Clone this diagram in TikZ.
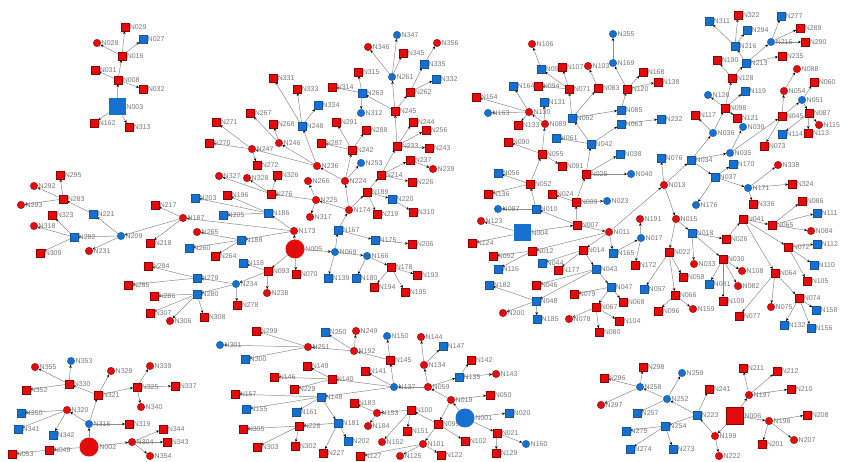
\documentclass[tikz,border=0pt]{standalone}
\usepackage{fontspec}
\setmainfont{Liberation Sans}
\usetikzlibrary{arrows.meta}
\pgfdeclarelayer{back}
\pgfdeclarelayer{edges}
\pgfsetlayers{back,edges,main}
\definecolor{nred}{RGB}{226,12,12}
\definecolor{ndred}{RGB}{150,0,0}
\definecolor{nblue}{RGB}{22,112,206}
\definecolor{ndblue}{RGB}{20,85,165}
\definecolor{lblgray}{RGB}{120,120,120}
\definecolor{edgegray}{RGB}{140,140,140}
\tikzset{
  lbl/.style={font=\fontsize{7}{8}\selectfont, text=lblgray, inner sep=0.6pt, label distance=0pt},
  rs/.style={rectangle, fill=nred, draw=ndred, line width=0.4pt, minimum size=7.5pt, inner sep=0pt},
  rc/.style={circle, fill=nred, draw=ndred, line width=0.3pt, minimum size=7.5pt, inner sep=0pt},
  bs/.style={rectangle, fill=nblue, draw=ndblue, line width=0.3pt, minimum size=7.5pt, inner sep=0pt},
  bc/.style={circle, fill=nblue, draw=ndblue, line width=0.3pt, minimum size=7.5pt, inner sep=0pt},
  RS/.style={rs, minimum size=17pt},
  RC/.style={rc, draw=none, minimum size=19pt},
  BS/.style={bs, draw=none, minimum size=17pt},
  BC/.style={bc, draw=none, minimum size=19pt},
  edge/.style={draw=edgegray, line width=0.5pt, -{Stealth[length=3pt,width=2.6pt,color=black]}}
}
\newcommand\nd[4]{\node[#1,label={[lbl]east:#2}] (#2) at (#3,#4) {};}
\begin{document}
\begin{tikzpicture}[x=1pt,y=-1pt]
\useasboundingbox (0,0) rectangle (844,462);
\begin{pgfonlayer}{back}
\fill[white] (0,0) rectangle (844,462);
\end{pgfonlayer}
% component A
\nd{BS}{N003}{117}{107}
\nd{rs}{N008}{118}{80}
\nd{rs}{N016}{122}{56}
\nd{rs}{N029}{125}{27}
\nd{bs}{N027}{143}{39}
\nd{rc}{N028}{97}{43}
\nd{rs}{N031}{95}{70}
\nd{rs}{N032}{143}{89}
\nd{rs}{N162}{94}{123}
\nd{rs}{N313}{129}{127}
% left
\nd{rs}{N295}{60}{175}
\nd{rc}{N292}{34}{186}
\nd{rs}{N283}{63}{199}
\nd{rc}{N293}{21}{205}
\nd{bs}{N221}{93}{214}
\nd{rs}{N323}{52}{215}
\nd{rc}{N318}{34}{226}
\nd{bs}{N282}{74}{237}
\nd{bc}{N209}{121}{236}
\nd{rc}{N231}{89}{251}
\nd{rs}{N309}{40}{253}
\nd{rs}{N217}{155}{205}
\nd{rc}{N187}{183}{218}
\nd{rs}{N218}{150}{243}
\nd{bs}{N203}{195}{198}
\nd{rc}{N265}{197}{232}
\nd{bs}{N260}{189}{248}
\nd{rs}{N284}{148}{266}
\nd{bs}{N279}{197}{278}
\nd{rs}{N285}{128}{285}
\nd{rs}{N286}{154}{296}
\nd{bs}{N280}{197}{294}
\nd{rs}{N307}{150}{313}
\nd{rc}{N306}{170}{321}
\nd{rs}{N308}{204}{317}
% center
\nd{rs}{N331}{273}{78}
\nd{rs}{N333}{297}{89}
\nd{bs}{N334}{318}{105}
\nd{bs}{N248}{302}{126}
\nd{rs}{N267}{250}{113}
\nd{rs}{N271}{216}{122}
\nd{rs}{N268}{273}{124}
\nd{rc}{N246}{279}{143}
\nd{rs}{N270}{209}{143}
\nd{rc}{N247}{252}{149}
\nd{rs}{N291}{336}{122}
\nd{rs}{N288}{366}{130}
\nd{rs}{N287}{321}{143}
\nd{rs}{N242}{352}{150}
\nd{rs}{N233}{397}{146}
\nd{rs}{N244}{413}{122}
\nd{rs}{N256}{426}{130}
\nd{rs}{N243}{429}{148}
\nd{bc}{N347}{397}{35}
\nd{rc}{N346}{368}{47}
\nd{rs}{N345}{403}{53}
\nd{bc}{N261}{392}{77}
\nd{rs}{N315}{358}{72}
\nd{rs}{N314}{332}{87}
\nd{bs}{N263}{362}{93}
\nd{bc}{N312}{361}{113}
\nd{rs}{N245}{395}{111}
\nd{rs}{N262}{410}{92}
\nd{rc}{N356}{437}{43}
\nd{bs}{N335}{424}{64}
\nd{bs}{N332}{436}{79}
\nd{rs}{N272}{257}{165}
\nd{rc}{N236}{317}{166}
\nd{bc}{N253}{361}{163}
\nd{rs}{N214}{381}{175}
\nd{rs}{N237}{410}{160}
\nd{rc}{N239}{433}{169}
\nd{rs}{N226}{412}{182}
\nd{rc}{N327}{219}{176}
\nd{rc}{N328}{247}{178}
\nd{rs}{N326}{277}{175}
\nd{rc}{N266}{308}{181}
\nd{rc}{N224}{345}{181}
\nd{rs}{N276}{271}{194}
\nd{rs}{N196}{227}{195}
\nd{rc}{N225}{316}{200}
\nd{rs}{N189}{367}{192}
\nd{bs}{N220}{392}{199}
\nd{rc}{N174}{349}{210}
\nd{rs}{N219}{377}{214}
\nd{rs}{N310}{413}{212}
\nd{rc}{N317}{310}{217}
\nd{bs}{N186}{268}{213}
\nd{bs}{N205}{223}{215}
\nd{rc}{N173}{294}{231}
\nd{bs}{N167}{338}{230}
\nd{bs}{N188}{241}{240}
\nd{bs}{N175}{375}{240}
\nd{rs}{N206}{412}{244}
\nd{RC}{N005}{295}{249}
\nd{bc}{N069}{335}{252}
\nd{bc}{N166}{367}{256}
\nd{rs}{N264}{215}{256}
\nd{bs}{N118}{243}{263}
\nd{rs}{N093}{268}{271}
\nd{rs}{N070}{296}{274}
\nd{rs}{N178}{391}{267}
\nd{bs}{N139}{328}{278}
\nd{bs}{N180}{356}{278}
\nd{bc}{N234}{236}{284}
\nd{rc}{N238}{267}{293}
\nd{rs}{N194}{374}{287}
\nd{rs}{N195}{405}{292}
\nd{rs}{N193}{417}{275}
\nd{rs}{N278}{237}{305}
% right big
\nd{rc}{N106}{532}{44}
\nd{bs}{N095}{541}{69}
\nd{rs}{N107}{562}{67}
\nd{rc}{N103}{588}{66}
\nd{bs}{N164}{513}{86}
\nd{rs}{N094}{538}{86}
\nd{rs}{N071}{569}{89}
\nd{rs}{N083}{598}{88}
\nd{rs}{N154}{476}{97}
\nd{bs}{N131}{544}{102}
\nd{bc}{N163}{488}{113}
\nd{rc}{N130}{529}{112}
\nd{bs}{N062}{572}{118}
\nd{rs}{N133}{518}{125}
\nd{rc}{N089}{545}{124}
\nd{bs}{N061}{556}{138}
\nd{bs}{N042}{591}{144}
\nd{rs}{N090}{508}{142}
\nd{rs}{N055}{542}{154}
\nd{bc}{N255}{613}{34}
\nd{bc}{N169}{613}{63}
\nd{rs}{N120}{627}{89}
\nd{bs}{N085}{621}{110}
\nd{bs}{N063}{621}{124}
\nd{bs}{N232}{661}{119}
\nd{rs}{N168}{643}{72}
\nd{rs}{N138}{658}{82}
\nd{rs}{N322}{738}{15}
\nd{bs}{N311}{709}{21}
\nd{bs}{N277}{781}{16}
\nd{bs}{N294}{747}{30}
\nd{rs}{N289}{800}{28}
\nd{bs}{N216}{735}{46}
\nd{bc}{N215}{771}{42}
\nd{rs}{N290}{805}{42}
\nd{rs}{N190}{717}{60}
\nd{bs}{N213}{746}{63}
\nd{rs}{N235}{782}{56}
\nd{rs}{N128}{732}{78}
\nd{rc}{N088}{797}{69}
\nd{rs}{N060}{814}{82}
\nd{bc}{N126}{708}{95}
\nd{bs}{N119}{745}{91}
\nd{rc}{N054}{784}{91}
\nd{bc}{N051}{802}{100}
\nd{rs}{N098}{725}{108}
\nd{rs}{N117}{695}{115}
\nd{rs}{N121}{737}{118}
\nd{rs}{N087}{809}{113}
\nd{rs}{N045}{782}{116}
\nd{bc}{N039}{743}{127}
\nd{rc}{N115}{819}{125}
\nd{bc}{N036}{713}{133}
\nd{bs}{N114}{782}{134}
\nd{rs}{N113}{808}{133}
\nd{rs}{N073}{764}{146}
\nd{bc}{N035}{730}{153}
\nd{bs}{N038}{620}{154}
\nd{bs}{N076}{661}{158}
\nd{bs}{N034}{691}{160}
\nd{rs}{N091}{562}{166}
\nd{rs}{N025}{586}{174}
\nd{bs}{N056}{498}{173}
\nd{rs}{N052}{530}{184}
\nd{rs}{N136}{488}{194}
\nd{rs}{N024}{552}{194}
\nd{rs}{N009}{576}{202}
\nd{bc}{N023}{607}{201}
\nd{bc}{N097}{498}{209}
\nd{bs}{N010}{536}{209}
\nd{rc}{N123}{481}{221}
\nd{BS}{N004}{522}{233}
\nd{rs}{N007}{577}{225}
\nd{rc}{N011}{609}{232}
\nd{rs}{N124}{472}{243}
\nd{rs}{N012}{532}{251}
\nd{rs}{N014}{583}{250}
\nd{rs}{N092}{493}{256}
\nd{bs}{N044}{542}{263}
\nd{bs}{N116}{498}{269}
\nd{rs}{N177}{558}{270}
\nd{bs}{N043}{596}{269}
\nd{bs}{N182}{489}{285}
\nd{rs}{N046}{536}{285}
\nd{rs}{N079}{574}{294}
\nd{bs}{N047}{611}{287}
\nd{bs}{N048}{536}{301}
\nd{rs}{N067}{596}{307}
\nd{rs}{N068}{623}{302}
\nd{rc}{N200}{503}{313}
\nd{bs}{N185}{537}{319}
\nd{rc}{N078}{569}{319}
\nd{rs}{N080}{599}{332}
\nd{rs}{N104}{619}{321}
\nd{bc}{N040}{631}{174}
\nd{bs}{N170}{733}{164}
\nd{rc}{N338}{778}{165}
\nd{bs}{N037}{715}{177}
\nd{rc}{N013}{664}{185}
\nd{bc}{N171}{748}{188}
\nd{rs}{N324}{792}{184}
\nd{bc}{N176}{696}{205}
\nd{rs}{N336}{753}{204}
\nd{rs}{N086}{802}{201}
\nd{rc}{N191}{640}{219}
\nd{rc}{N015}{676}{219}
\nd{rs}{N041}{743}{219}
\nd{bs}{N111}{817}{213}
\nd{rs}{N065}{772}{225}
\nd{rc}{N084}{811}{231}
\nd{bs}{N018}{692}{233}
\nd{bc}{N017}{641}{238}
\nd{rs}{N026}{726}{239}
\nd{bs}{N112}{817}{244}
\nd{rs}{N072}{788}{247}
\nd{bs}{N165}{613}{253}
\nd{rs}{N022}{669}{252}
\nd{rs}{N030}{723}{259}
\nd{rs}{N172}{635}{265}
\nd{rc}{N033}{694}{264}
\nd{bs}{N110}{814}{265}
\nd{rc}{N108}{742}{271}
\nd{rs}{N064}{775}{273}
\nd{rs}{N058}{683}{277}
\nd{rs}{N105}{807}{281}
\nd{bs}{N081}{709}{284}
\nd{rc}{N082}{738}{286}
\nd{bs}{N057}{644}{289}
\nd{rs}{N066}{675}{295}
\nd{rs}{N074}{799}{298}
\nd{rs}{N109}{723}{301}
\nd{rc}{N075}{771}{307}
\nd{rs}{N096}{658}{311}
\nd{rc}{N159}{693}{309}
\nd{rs}{N077}{739}{316}
\nd{bs}{N158}{816}{310}
\nd{bs}{N132}{784}{325}
\nd{bs}{N156}{811}{328}
% bottom left
\nd{bc}{N353}{71}{361}
\nd{rc}{N355}{35}{367}
\nd{rc}{N329}{111}{371}
\nd{rc}{N339}{150}{366}
\nd{rs}{N330}{69}{384}
\nd{rs}{N352}{26}{390}
\nd{rs}{N325}{137}{387}
\nd{rs}{N337}{175}{386}
\nd{rs}{N321}{98}{395}
\nd{rc}{N320}{67}{410}
\nd{bs}{N350}{21}{413}
\nd{rc}{N340}{141}{407}
\nd{bc}{N316}{89}{424}
\nd{rs}{N319}{129}{424}
\nd{bs}{N341}{18}{429}
\nd{bs}{N342}{53}{435}
\nd{rs}{N344}{163}{429}
\nd{rc}{N304}{132}{442}
\nd{rs}{N343}{167}{442}
\nd{rs}{N049}{49}{450}
\nd{RC}{N002}{89}{447}
\nd{rs}{N053}{12}{454}
\nd{rc}{N354}{150}{456}
% bottom middle
\nd{rs}{N299}{256}{331}
\nd{bs}{N250}{325}{332}
\nd{rc}{N249}{356}{331}
\nd{bc}{N150}{387}{336}
\nd{bc}{N301}{220}{345}
\nd{rc}{N251}{308}{347}
\nd{rc}{N192}{354}{351}
\nd{rs}{N145}{390}{360}
\nd{bs}{N300}{245}{359}
\nd{rs}{N149}{307}{366}
\nd{rs}{N141}{365}{371}
\nd{rs}{N146}{274}{377}
\nd{rs}{N140}{332}{379}
\nd{rs}{N229}{294}{389}
\nd{bc}{N137}{394}{387}
\nd{rs}{N157}{235}{394}
\nd{bs}{N148}{321}{397}
\nd{bs}{N155}{246}{409}
\nd{bs}{N161}{296}{412}
\nd{rs}{N183}{354}{403}
\nd{rc}{N153}{377}{413}
\nd{rs}{N100}{411}{410}
\nd{bs}{N181}{338}{423}
\nd{rc}{N184}{368}{426}
\nd{rs}{N305}{243}{429}
\nd{rs}{N228}{299}{426}
\nd{rs}{N151}{407}{431}
\nd{bs}{N202}{348}{441}
\nd{rc}{N152}{382}{442}
\nd{rs}{N303}{257}{447}
\nd{rs}{N302}{295}{446}
\nd{rs}{N227}{323}{453}
\nd{rs}{N127}{360}{456}
\nd{rc}{N125}{400}{456}
\nd{rc}{N144}{421}{337}
\nd{bs}{N147}{443}{346}
\nd{rc}{N134}{424}{365}
\nd{rs}{N142}{471}{360}
\nd{bs}{N135}{459}{377}
\nd{rc}{N143}{496}{374}
\nd{rc}{N059}{428}{387}
\nd{rc}{N019}{451}{400}
\nd{rs}{N050}{490}{395}
\nd{rs}{N099}{438}{424}
\nd{BC}{N001}{465}{418}
\nd{bs}{N020}{509}{413}
\nd{rs}{N021}{497}{433}
\nd{rs}{N102}{465}{441}
\nd{rc}{N101}{423}{444}
\nd{bc}{N160}{526}{444}
\nd{rs}{N122}{441}{455}
\nd{rs}{N129}{496}{453}
% bottom right
\nd{rs}{N298}{643}{367}
\nd{bc}{N259}{682}{373}
\nd{rs}{N211}{743}{368}
\nd{rs}{N212}{777}{371}
\nd{rs}{N296}{604}{378}
\nd{bc}{N258}{640}{387}
\nd{rs}{N241}{709}{389}
\nd{rs}{N210}{791}{389}
\nd{rc}{N197}{749}{395}
\nd{bc}{N252}{667}{399}
\nd{rc}{N297}{601}{405}
\nd{bs}{N257}{637}{413}
\nd{bs}{N223}{697}{415}
\nd{RS}{N006}{735}{416}
\nd{rc}{N198}{769}{421}
\nd{rs}{N208}{807}{415}
\nd{bs}{N254}{665}{426}
\nd{bs}{N275}{626}{431}
\nd{rc}{N199}{715}{436}
\nd{rc}{N207}{794}{440}
\nd{rs}{N201}{762}{444}
\nd{bs}{N274}{630}{449}
\nd{bs}{N273}{673}{449}
\nd{rc}{N222}{719}{456}
\begin{pgfonlayer}{edges}
\foreach \a/\b in {
N003/N008,N003/N162,N003/N313,N008/N016,N008/N031,N008/N032,N016/N029,N016/N027,N016/N028,
N005/N173,N005/N069,N005/N093,N005/N070,
N173/N186,N173/N188,N173/N187,
N187/N217,N187/N218,N187/N209,
N209/N221,N209/N282,N209/N231,
N221/N283,N283/N295,N283/N292,N283/N293,
N282/N323,N282/N318,N282/N309,
N186/N196,N186/N205,N186/N203,
N188/N265,N188/N260,N188/N264,
N093/N118,N093/N238,N093/N234,
N234/N279,N234/N280,N234/N278,
N279/N284,N279/N285,N280/N286,N280/N307,N280/N306,N280/N308,
N069/N167,N069/N139,N069/N166,
N166/N180,N166/N178,N178/N194,N178/N195,N178/N193,
N167/N174,N167/N175,N175/N206,
N174/N225,N174/N224,N174/N189,
N225/N266,N225/N317,N225/N276,
N276/N327,N276/N328,N276/N326,
N189/N214,N189/N220,N189/N219,N220/N310,
N214/N237,N214/N226,N214/N233,N237/N239,
N224/N236,N224/N253,N224/N242,
N242/N291,N242/N288,N242/N287,
N236/N248,N236/N246,N236/N247,
N248/N331,N248/N333,N248/N334,
N246/N267,N246/N268,
N247/N271,N247/N270,N247/N272,
N233/N245,N233/N244,N233/N256,N233/N243,
N245/N261,N245/N263,N245/N262,
N261/N347,N261/N346,N261/N345,
N263/N315,N263/N314,N263/N312,
N262/N335,N262/N332,N335/N356,
N004/N007,N004/N123,N004/N124,
N007/N010,N007/N009,N007/N011,
N010/N097,N010/N052,
N052/N056,N052/N136,N052/N055,
N055/N089,N055/N090,N055/N091,
N089/N130,N089/N131,
N130/N154,N130/N163,N130/N164,N130/N133,
N009/N024,N009/N023,N009/N025,
N025/N038,N025/N040,N025/N042,
N042/N062,N042/N061,N042/N063,
N062/N071,N062/N083,N062/N085,
N063/N232,N085/N120,
N120/N169,N120/N168,N120/N138,N169/N255,
N071/N094,N071/N095,N071/N107,N083/N103,N095/N106,
N011/N012,N011/N013,N011/N014,N011/N165,N165/N017,
N012/N092,N012/N116,
N014/N044,N014/N177,N014/N043,
N043/N047,N043/N046,N043/N048,
N047/N067,N047/N068,N047/N079,
N067/N078,N067/N080,N067/N104,
N048/N182,N048/N200,N048/N185,
N013/N076,N013/N034,N013/N015,
N034/N036,N034/N035,N034/N037,
N036/N117,N036/N098,
N098/N126,N098/N119,N098/N128,N098/N121,
N128/N190,N128/N213,
N213/N216,N213/N215,N213/N235,
N216/N311,N216/N322,N216/N294,
N215/N277,N215/N289,N215/N290,
N035/N039,N035/N045,
N045/N054,N045/N051,N045/N073,
N051/N087,N051/N060,N087/N114,
N087/N115,N087/N113,N054/N088,
N037/N170,N037/N171,N037/N176,
N171/N338,N171/N324,N171/N336,
N015/N018,N015/N022,
N017/N191,N017/N172,
N018/N033,N018/N026,N018/N030,
N026/N041,
N041/N065,N041/N072,N041/N064,
N065/N086,N065/N111,N065/N084,
N072/N112,N072/N110,N072/N105,
N064/N075,N064/N074,N064/N077,
N074/N158,N074/N132,N074/N156,
N030/N108,N030/N081,N030/N082,N030/N109,
N022/N057,N022/N058,N022/N066,
N066/N096,N066/N159,
N001/N019,N001/N020,N001/N021,
N021/N160,N021/N129,
N019/N050,N019/N059,N019/N099,
N059/N137,N059/N134,N059/N135,
N134/N144,N134/N147,
N135/N142,N135/N143,
N099/N100,N099/N101,N099/N102,
N100/N153,N100/N151,N100/N152,
N153/N183,N153/N184,
N101/N122,N101/N125,N101/N127,
N137/N145,N137/N141,N137/N140,N137/N148,
N145/N150,N145/N192,
N192/N249,N192/N250,N192/N251,
N251/N299,N251/N301,N251/N300,
N140/N149,N140/N146,N140/N229,
N148/N157,N148/N155,N148/N161,N148/N181,
N181/N228,N181/N202,N181/N227,
N228/N305,N228/N303,N228/N302,
N002/N049,N049/N053,N002/N316,N002/N304,
N316/N320,N316/N321,N316/N319,
N320/N350,N320/N341,N320/N342,
N321/N330,N321/N329,N321/N325,
N330/N355,N330/N353,N330/N352,
N325/N339,N325/N337,N325/N340,
N304/N344,N304/N343,N304/N354,
N006/N197,N006/N198,N006/N199,
N197/N211,N197/N212,N197/N210,
N198/N208,N198/N207,N198/N201,
N199/N222,N199/N223,
N223/N241,N223/N252,N223/N254,
N252/N259,N252/N258,N252/N257,
N258/N298,N258/N296,N258/N297,
N254/N275,N254/N274,N254/N273}
  \draw[edge] (\a) -- (\b);
\end{pgfonlayer}
\end{tikzpicture}
\end{document}
